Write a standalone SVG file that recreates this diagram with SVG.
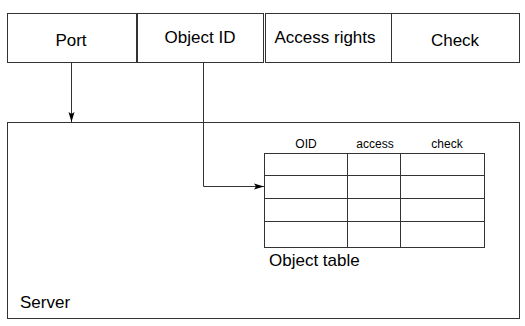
<svg xmlns="http://www.w3.org/2000/svg" width="525" height="326" viewBox="0 0 525 326">
<style>
.box{fill:#fff;stroke:#333;stroke-width:1}
.ln{fill:none;stroke:#333;stroke-width:1}
.t{font-family:"Liberation Sans",Arial,sans-serif;fill:#000}
.big{font-size:17px}
.sm{font-size:12px}
</style>
<defs>
<marker id="ah" markerWidth="10" markerHeight="8" refX="10" refY="4" orient="auto" markerUnits="userSpaceOnUse">
<path d="M0,1 L10,4 L0,7 L2,4 Z" fill="#000"/>
</marker>
</defs>
<g id="server">
<rect class="box" x="7.5" y="122.5" width="512" height="196"/>
<text class="t big" x="20" y="308">Server</text>
</g>
<g id="port">
<rect class="box" x="7.5" y="13.5" width="129" height="49"/>
<text class="t big" x="71" y="46" text-anchor="middle">Port</text>
</g>
<g id="objectid">
<rect class="box" x="137.5" y="13.5" width="126" height="49"/>
<text class="t big" x="200" y="43" text-anchor="middle">Object ID</text>
</g>
<g id="access">
<rect class="box" x="265.5" y="13.5" width="126" height="49"/>
<text class="t big" x="325" y="43" text-anchor="middle">Access rights</text>
</g>
<g id="check">
<rect class="box" x="391.5" y="13.5" width="128" height="49"/>
<text class="t big" x="455" y="46" text-anchor="middle">Check</text>
</g>
<g id="objecttable">
<rect class="box" x="264.5" y="153.5" width="220" height="94"/>
<path class="ln" d="M264.5,175.5 H484.5 M264.5,198.5 H484.5 M264.5,221.5 H484.5 M347.5,153.5 V247.5 M400.5,153.5 V247.5"/>
<text class="t sm" x="306" y="148" text-anchor="middle">OID</text>
<text class="t sm" x="375" y="148" text-anchor="middle">access</text>
<text class="t sm" x="447" y="148" text-anchor="middle">check</text>
<text class="t big" x="269" y="266">Object table</text>
</g>
<g id="connectors">
<path class="ln" d="M71.5,62.5 V122" marker-end="url(#ah)"/>
<path class="ln" d="M203.5,62.5 V186.5 H264" marker-end="url(#ah)"/>
</g>
</svg>
